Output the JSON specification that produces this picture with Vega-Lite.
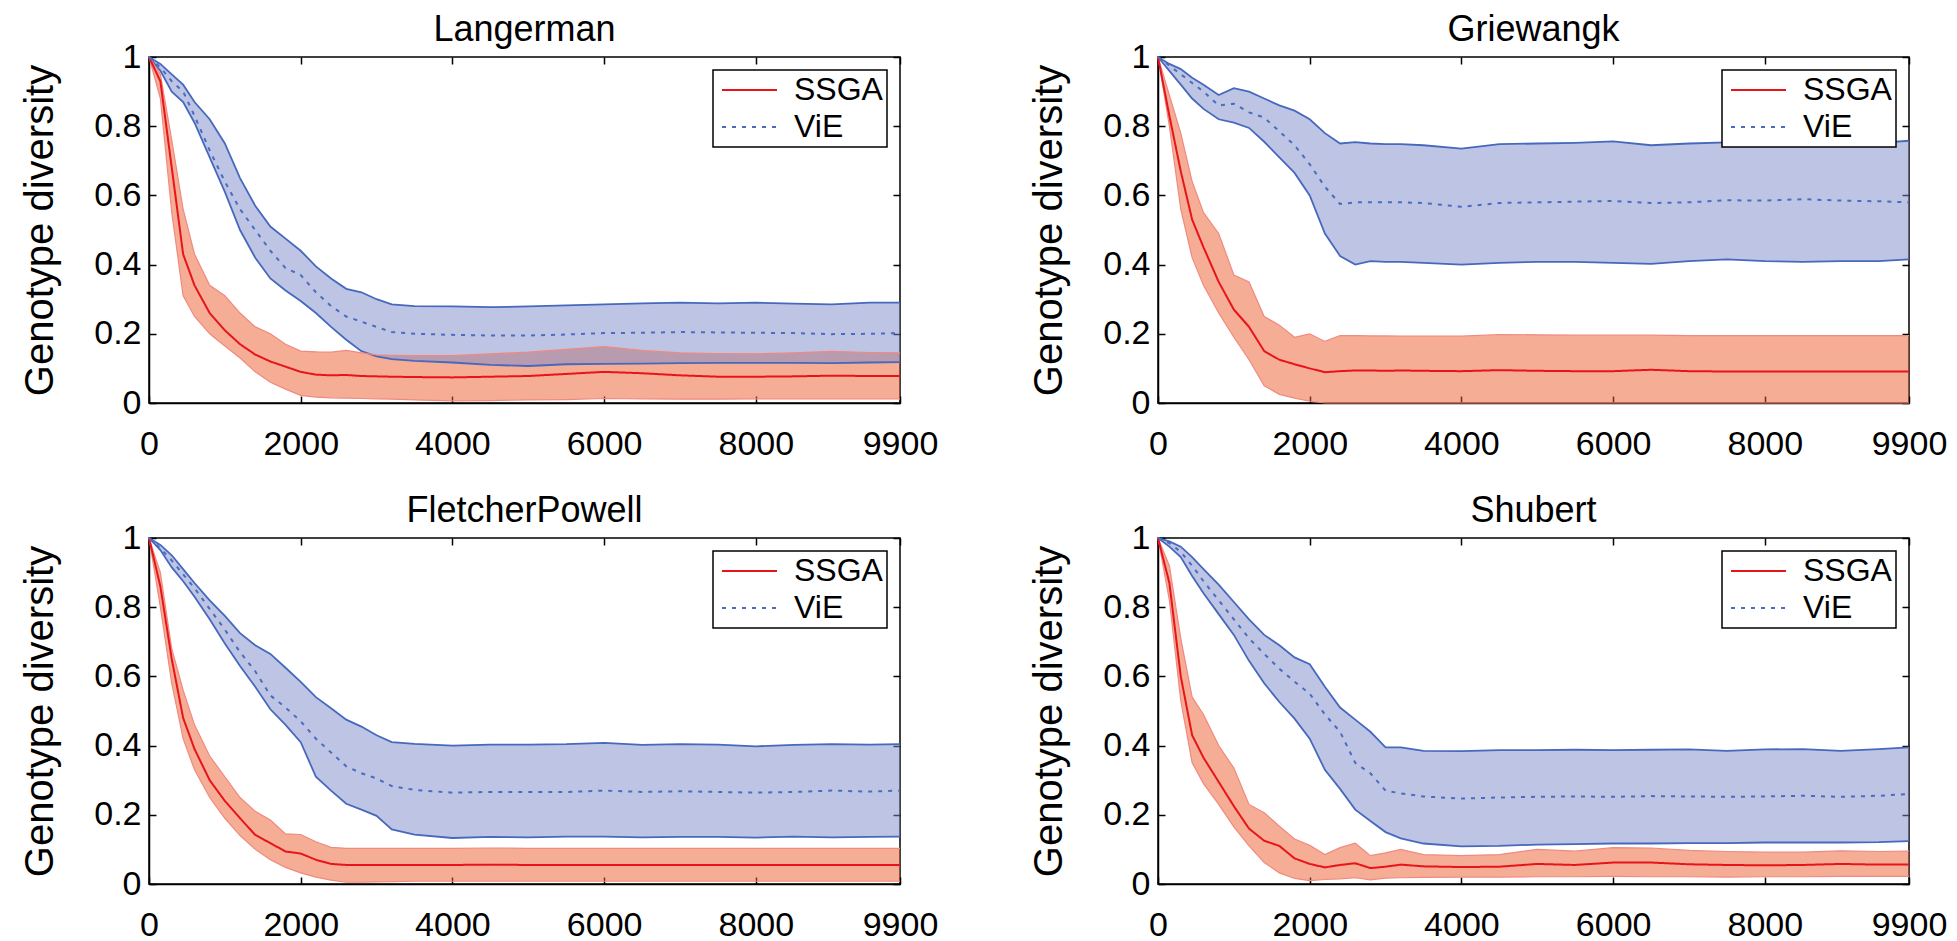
{
"$schema":"https://vega.github.io/schema/vega-lite/v6.json",
"padding":{"left":19,"top":11,"right":5,"bottom":0},
"background":"white",
"datasets":{"d":[
{"f":"Langerman","s":"SSGA","x":0,"m":1,"lo":1,"hi":1},
{"f":"Langerman","s":"SSGA","x":150,"m":0.93,"lo":0.88,"hi":0.95},
{"f":"Langerman","s":"SSGA","x":300,"m":0.68,"lo":0.55,"hi":0.76},
{"f":"Langerman","s":"SSGA","x":450,"m":0.43,"lo":0.31,"hi":0.56},
{"f":"Langerman","s":"SSGA","x":600,"m":0.34,"lo":0.25,"hi":0.43},
{"f":"Langerman","s":"SSGA","x":800,"m":0.26,"lo":0.2,"hi":0.34},
{"f":"Langerman","s":"SSGA","x":1000,"m":0.21,"lo":0.165,"hi":0.31},
{"f":"Langerman","s":"SSGA","x":1200,"m":0.17,"lo":0.13,"hi":0.26},
{"f":"Langerman","s":"SSGA","x":1400,"m":0.14,"lo":0.09,"hi":0.22},
{"f":"Langerman","s":"SSGA","x":1600,"m":0.12,"lo":0.06,"hi":0.2},
{"f":"Langerman","s":"SSGA","x":1800,"m":0.105,"lo":0.04,"hi":0.17},
{"f":"Langerman","s":"SSGA","x":2000,"m":0.09,"lo":0.022,"hi":0.15},
{"f":"Langerman","s":"SSGA","x":2200,"m":0.082,"lo":0.017,"hi":0.148},
{"f":"Langerman","s":"SSGA","x":2400,"m":0.08,"lo":0.015,"hi":0.147},
{"f":"Langerman","s":"SSGA","x":2600,"m":0.081,"lo":0.014,"hi":0.152},
{"f":"Langerman","s":"SSGA","x":2800,"m":0.078,"lo":0.013,"hi":0.145},
{"f":"Langerman","s":"SSGA","x":3000,"m":0.077,"lo":0.012,"hi":0.139},
{"f":"Langerman","s":"SSGA","x":3200,"m":0.076,"lo":0.011,"hi":0.138},
{"f":"Langerman","s":"SSGA","x":3500,"m":0.075,"lo":0.009,"hi":0.137},
{"f":"Langerman","s":"SSGA","x":4000,"m":0.074,"lo":0.006,"hi":0.137},
{"f":"Langerman","s":"SSGA","x":4500,"m":0.076,"lo":0.007,"hi":0.142},
{"f":"Langerman","s":"SSGA","x":5000,"m":0.078,"lo":0.009,"hi":0.147},
{"f":"Langerman","s":"SSGA","x":5500,"m":0.084,"lo":0.01,"hi":0.155},
{"f":"Langerman","s":"SSGA","x":6000,"m":0.09,"lo":0.013,"hi":0.163},
{"f":"Langerman","s":"SSGA","x":6500,"m":0.086,"lo":0.012,"hi":0.152},
{"f":"Langerman","s":"SSGA","x":7000,"m":0.08,"lo":0.011,"hi":0.145},
{"f":"Langerman","s":"SSGA","x":7500,"m":0.076,"lo":0.011,"hi":0.143},
{"f":"Langerman","s":"SSGA","x":8000,"m":0.076,"lo":0.012,"hi":0.142},
{"f":"Langerman","s":"SSGA","x":8500,"m":0.077,"lo":0.012,"hi":0.145},
{"f":"Langerman","s":"SSGA","x":9000,"m":0.079,"lo":0.012,"hi":0.149},
{"f":"Langerman","s":"SSGA","x":9500,"m":0.078,"lo":0.012,"hi":0.146},
{"f":"Langerman","s":"SSGA","x":9900,"m":0.078,"lo":0.012,"hi":0.145},
{"f":"Langerman","s":"ViE","x":0,"m":1,"lo":1,"hi":1},
{"f":"Langerman","s":"ViE","x":150,"m":0.97,"lo":0.96,"hi":0.98},
{"f":"Langerman","s":"ViE","x":300,"m":0.93,"lo":0.9,"hi":0.95},
{"f":"Langerman","s":"ViE","x":450,"m":0.9,"lo":0.87,"hi":0.92},
{"f":"Langerman","s":"ViE","x":600,"m":0.83,"lo":0.81,"hi":0.87},
{"f":"Langerman","s":"ViE","x":800,"m":0.73,"lo":0.71,"hi":0.82},
{"f":"Langerman","s":"ViE","x":1000,"m":0.64,"lo":0.61,"hi":0.75},
{"f":"Langerman","s":"ViE","x":1200,"m":0.56,"lo":0.5,"hi":0.65},
{"f":"Langerman","s":"ViE","x":1400,"m":0.5,"lo":0.42,"hi":0.57},
{"f":"Langerman","s":"ViE","x":1600,"m":0.44,"lo":0.36,"hi":0.51},
{"f":"Langerman","s":"ViE","x":1800,"m":0.39,"lo":0.325,"hi":0.475},
{"f":"Langerman","s":"ViE","x":2000,"m":0.37,"lo":0.295,"hi":0.44},
{"f":"Langerman","s":"ViE","x":2200,"m":0.32,"lo":0.26,"hi":0.395},
{"f":"Langerman","s":"ViE","x":2400,"m":0.28,"lo":0.22,"hi":0.36},
{"f":"Langerman","s":"ViE","x":2600,"m":0.25,"lo":0.183,"hi":0.33},
{"f":"Langerman","s":"ViE","x":2800,"m":0.235,"lo":0.15,"hi":0.32},
{"f":"Langerman","s":"ViE","x":3000,"m":0.22,"lo":0.135,"hi":0.3},
{"f":"Langerman","s":"ViE","x":3200,"m":0.205,"lo":0.127,"hi":0.285},
{"f":"Langerman","s":"ViE","x":3500,"m":0.2,"lo":0.122,"hi":0.28},
{"f":"Langerman","s":"ViE","x":4000,"m":0.197,"lo":0.117,"hi":0.279},
{"f":"Langerman","s":"ViE","x":4500,"m":0.195,"lo":0.11,"hi":0.277},
{"f":"Langerman","s":"ViE","x":5000,"m":0.195,"lo":0.107,"hi":0.279},
{"f":"Langerman","s":"ViE","x":5500,"m":0.198,"lo":0.112,"hi":0.282},
{"f":"Langerman","s":"ViE","x":6000,"m":0.202,"lo":0.113,"hi":0.285},
{"f":"Langerman","s":"ViE","x":6500,"m":0.203,"lo":0.114,"hi":0.288},
{"f":"Langerman","s":"ViE","x":7000,"m":0.205,"lo":0.115,"hi":0.29},
{"f":"Langerman","s":"ViE","x":7500,"m":0.204,"lo":0.116,"hi":0.288},
{"f":"Langerman","s":"ViE","x":8000,"m":0.203,"lo":0.116,"hi":0.29},
{"f":"Langerman","s":"ViE","x":8500,"m":0.202,"lo":0.116,"hi":0.287},
{"f":"Langerman","s":"ViE","x":9000,"m":0.199,"lo":0.115,"hi":0.285},
{"f":"Langerman","s":"ViE","x":9500,"m":0.2,"lo":0.117,"hi":0.29},
{"f":"Langerman","s":"ViE","x":9900,"m":0.202,"lo":0.118,"hi":0.29},
{"f":"Griewangk","s":"SSGA","x":0,"m":1,"lo":1,"hi":1},
{"f":"Griewangk","s":"SSGA","x":150,"m":0.83,"lo":0.8,"hi":0.89},
{"f":"Griewangk","s":"SSGA","x":300,"m":0.67,"lo":0.56,"hi":0.78},
{"f":"Griewangk","s":"SSGA","x":450,"m":0.53,"lo":0.42,"hi":0.64},
{"f":"Griewangk","s":"SSGA","x":600,"m":0.45,"lo":0.34,"hi":0.55},
{"f":"Griewangk","s":"SSGA","x":800,"m":0.35,"lo":0.26,"hi":0.49},
{"f":"Griewangk","s":"SSGA","x":1000,"m":0.27,"lo":0.19,"hi":0.37},
{"f":"Griewangk","s":"SSGA","x":1200,"m":0.22,"lo":0.125,"hi":0.35},
{"f":"Griewangk","s":"SSGA","x":1400,"m":0.15,"lo":0.05,"hi":0.25},
{"f":"Griewangk","s":"SSGA","x":1600,"m":0.125,"lo":0.025,"hi":0.225},
{"f":"Griewangk","s":"SSGA","x":1800,"m":0.112,"lo":0.014,"hi":0.19},
{"f":"Griewangk","s":"SSGA","x":2000,"m":0.1,"lo":0.005,"hi":0.2},
{"f":"Griewangk","s":"SSGA","x":2200,"m":0.089,"lo":0,"hi":0.178},
{"f":"Griewangk","s":"SSGA","x":2400,"m":0.092,"lo":0,"hi":0.195},
{"f":"Griewangk","s":"SSGA","x":2600,"m":0.094,"lo":0,"hi":0.195},
{"f":"Griewangk","s":"SSGA","x":2800,"m":0.094,"lo":0,"hi":0.194},
{"f":"Griewangk","s":"SSGA","x":3000,"m":0.093,"lo":0,"hi":0.194},
{"f":"Griewangk","s":"SSGA","x":3200,"m":0.094,"lo":0,"hi":0.193},
{"f":"Griewangk","s":"SSGA","x":3500,"m":0.093,"lo":0,"hi":0.193},
{"f":"Griewangk","s":"SSGA","x":4000,"m":0.092,"lo":0,"hi":0.193},
{"f":"Griewangk","s":"SSGA","x":4500,"m":0.095,"lo":0,"hi":0.198},
{"f":"Griewangk","s":"SSGA","x":5000,"m":0.093,"lo":0,"hi":0.197},
{"f":"Griewangk","s":"SSGA","x":5500,"m":0.092,"lo":0,"hi":0.196},
{"f":"Griewangk","s":"SSGA","x":6000,"m":0.092,"lo":0,"hi":0.196},
{"f":"Griewangk","s":"SSGA","x":6500,"m":0.096,"lo":0,"hi":0.196},
{"f":"Griewangk","s":"SSGA","x":7000,"m":0.092,"lo":0,"hi":0.195},
{"f":"Griewangk","s":"SSGA","x":7500,"m":0.091,"lo":0,"hi":0.195},
{"f":"Griewangk","s":"SSGA","x":8000,"m":0.091,"lo":0,"hi":0.195},
{"f":"Griewangk","s":"SSGA","x":8500,"m":0.091,"lo":0,"hi":0.195},
{"f":"Griewangk","s":"SSGA","x":9000,"m":0.091,"lo":0,"hi":0.195},
{"f":"Griewangk","s":"SSGA","x":9500,"m":0.091,"lo":0,"hi":0.195},
{"f":"Griewangk","s":"SSGA","x":9900,"m":0.091,"lo":0,"hi":0.195},
{"f":"Griewangk","s":"ViE","x":0,"m":1,"lo":1,"hi":1},
{"f":"Griewangk","s":"ViE","x":150,"m":0.975,"lo":0.96,"hi":0.98},
{"f":"Griewangk","s":"ViE","x":300,"m":0.95,"lo":0.92,"hi":0.965},
{"f":"Griewangk","s":"ViE","x":450,"m":0.925,"lo":0.88,"hi":0.94},
{"f":"Griewangk","s":"ViE","x":600,"m":0.9,"lo":0.85,"hi":0.92},
{"f":"Griewangk","s":"ViE","x":800,"m":0.86,"lo":0.82,"hi":0.89},
{"f":"Griewangk","s":"ViE","x":1000,"m":0.865,"lo":0.81,"hi":0.91},
{"f":"Griewangk","s":"ViE","x":1200,"m":0.84,"lo":0.795,"hi":0.9},
{"f":"Griewangk","s":"ViE","x":1400,"m":0.825,"lo":0.755,"hi":0.88},
{"f":"Griewangk","s":"ViE","x":1600,"m":0.785,"lo":0.71,"hi":0.86},
{"f":"Griewangk","s":"ViE","x":1800,"m":0.745,"lo":0.665,"hi":0.845},
{"f":"Griewangk","s":"ViE","x":2000,"m":0.69,"lo":0.6,"hi":0.82},
{"f":"Griewangk","s":"ViE","x":2200,"m":0.625,"lo":0.49,"hi":0.78},
{"f":"Griewangk","s":"ViE","x":2400,"m":0.575,"lo":0.425,"hi":0.75},
{"f":"Griewangk","s":"ViE","x":2600,"m":0.58,"lo":0.4,"hi":0.754},
{"f":"Griewangk","s":"ViE","x":2800,"m":0.58,"lo":0.41,"hi":0.75},
{"f":"Griewangk","s":"ViE","x":3000,"m":0.58,"lo":0.408,"hi":0.748},
{"f":"Griewangk","s":"ViE","x":3200,"m":0.58,"lo":0.408,"hi":0.748},
{"f":"Griewangk","s":"ViE","x":3500,"m":0.578,"lo":0.405,"hi":0.745},
{"f":"Griewangk","s":"ViE","x":4000,"m":0.567,"lo":0.4,"hi":0.735},
{"f":"Griewangk","s":"ViE","x":4500,"m":0.578,"lo":0.405,"hi":0.748},
{"f":"Griewangk","s":"ViE","x":5000,"m":0.58,"lo":0.408,"hi":0.75},
{"f":"Griewangk","s":"ViE","x":5500,"m":0.582,"lo":0.408,"hi":0.752},
{"f":"Griewangk","s":"ViE","x":6000,"m":0.584,"lo":0.405,"hi":0.756},
{"f":"Griewangk","s":"ViE","x":6500,"m":0.578,"lo":0.402,"hi":0.745},
{"f":"Griewangk","s":"ViE","x":7000,"m":0.58,"lo":0.41,"hi":0.75},
{"f":"Griewangk","s":"ViE","x":7500,"m":0.586,"lo":0.415,"hi":0.753},
{"f":"Griewangk","s":"ViE","x":8000,"m":0.585,"lo":0.41,"hi":0.756},
{"f":"Griewangk","s":"ViE","x":8500,"m":0.589,"lo":0.408,"hi":0.755},
{"f":"Griewangk","s":"ViE","x":9000,"m":0.585,"lo":0.41,"hi":0.757},
{"f":"Griewangk","s":"ViE","x":9500,"m":0.583,"lo":0.41,"hi":0.752},
{"f":"Griewangk","s":"ViE","x":9900,"m":0.58,"lo":0.415,"hi":0.758},
{"f":"FletcherPowell","s":"SSGA","x":0,"m":1,"lo":1,"hi":1},
{"f":"FletcherPowell","s":"SSGA","x":150,"m":0.86,"lo":0.8,"hi":0.9},
{"f":"FletcherPowell","s":"SSGA","x":300,"m":0.65,"lo":0.58,"hi":0.68},
{"f":"FletcherPowell","s":"SSGA","x":450,"m":0.48,"lo":0.42,"hi":0.56},
{"f":"FletcherPowell","s":"SSGA","x":600,"m":0.39,"lo":0.33,"hi":0.46},
{"f":"FletcherPowell","s":"SSGA","x":800,"m":0.3,"lo":0.25,"hi":0.37},
{"f":"FletcherPowell","s":"SSGA","x":1000,"m":0.24,"lo":0.19,"hi":0.31},
{"f":"FletcherPowell","s":"SSGA","x":1200,"m":0.19,"lo":0.14,"hi":0.25},
{"f":"FletcherPowell","s":"SSGA","x":1400,"m":0.142,"lo":0.1,"hi":0.21},
{"f":"FletcherPowell","s":"SSGA","x":1600,"m":0.118,"lo":0.07,"hi":0.185},
{"f":"FletcherPowell","s":"SSGA","x":1800,"m":0.094,"lo":0.048,"hi":0.145},
{"f":"FletcherPowell","s":"SSGA","x":2000,"m":0.088,"lo":0.032,"hi":0.143},
{"f":"FletcherPowell","s":"SSGA","x":2200,"m":0.07,"lo":0.02,"hi":0.122},
{"f":"FletcherPowell","s":"SSGA","x":2400,"m":0.058,"lo":0.011,"hi":0.106},
{"f":"FletcherPowell","s":"SSGA","x":2600,"m":0.055,"lo":0.005,"hi":0.103},
{"f":"FletcherPowell","s":"SSGA","x":2800,"m":0.055,"lo":0.005,"hi":0.103},
{"f":"FletcherPowell","s":"SSGA","x":3000,"m":0.055,"lo":0.006,"hi":0.103},
{"f":"FletcherPowell","s":"SSGA","x":3200,"m":0.055,"lo":0.007,"hi":0.103},
{"f":"FletcherPowell","s":"SSGA","x":3500,"m":0.055,"lo":0.008,"hi":0.103},
{"f":"FletcherPowell","s":"SSGA","x":4000,"m":0.055,"lo":0.008,"hi":0.103},
{"f":"FletcherPowell","s":"SSGA","x":4500,"m":0.056,"lo":0.008,"hi":0.104},
{"f":"FletcherPowell","s":"SSGA","x":5000,"m":0.055,"lo":0.008,"hi":0.103},
{"f":"FletcherPowell","s":"SSGA","x":5500,"m":0.055,"lo":0.008,"hi":0.103},
{"f":"FletcherPowell","s":"SSGA","x":6000,"m":0.055,"lo":0.008,"hi":0.103},
{"f":"FletcherPowell","s":"SSGA","x":6500,"m":0.055,"lo":0.008,"hi":0.103},
{"f":"FletcherPowell","s":"SSGA","x":7000,"m":0.055,"lo":0.008,"hi":0.103},
{"f":"FletcherPowell","s":"SSGA","x":7500,"m":0.055,"lo":0.008,"hi":0.103},
{"f":"FletcherPowell","s":"SSGA","x":8000,"m":0.055,"lo":0.008,"hi":0.103},
{"f":"FletcherPowell","s":"SSGA","x":8500,"m":0.055,"lo":0.008,"hi":0.103},
{"f":"FletcherPowell","s":"SSGA","x":9000,"m":0.055,"lo":0.008,"hi":0.103},
{"f":"FletcherPowell","s":"SSGA","x":9500,"m":0.055,"lo":0.008,"hi":0.103},
{"f":"FletcherPowell","s":"SSGA","x":9900,"m":0.055,"lo":0.008,"hi":0.103},
{"f":"FletcherPowell","s":"ViE","x":0,"m":1,"lo":1,"hi":1},
{"f":"FletcherPowell","s":"ViE","x":150,"m":0.97,"lo":0.965,"hi":0.98},
{"f":"FletcherPowell","s":"ViE","x":300,"m":0.935,"lo":0.915,"hi":0.95},
{"f":"FletcherPowell","s":"ViE","x":450,"m":0.895,"lo":0.875,"hi":0.91},
{"f":"FletcherPowell","s":"ViE","x":600,"m":0.855,"lo":0.83,"hi":0.87},
{"f":"FletcherPowell","s":"ViE","x":800,"m":0.795,"lo":0.765,"hi":0.82},
{"f":"FletcherPowell","s":"ViE","x":1000,"m":0.735,"lo":0.695,"hi":0.775},
{"f":"FletcherPowell","s":"ViE","x":1200,"m":0.67,"lo":0.63,"hi":0.725},
{"f":"FletcherPowell","s":"ViE","x":1400,"m":0.615,"lo":0.57,"hi":0.69},
{"f":"FletcherPowell","s":"ViE","x":1600,"m":0.545,"lo":0.505,"hi":0.665},
{"f":"FletcherPowell","s":"ViE","x":1800,"m":0.51,"lo":0.46,"hi":0.625},
{"f":"FletcherPowell","s":"ViE","x":2000,"m":0.47,"lo":0.41,"hi":0.584},
{"f":"FletcherPowell","s":"ViE","x":2200,"m":0.42,"lo":0.31,"hi":0.54},
{"f":"FletcherPowell","s":"ViE","x":2400,"m":0.38,"lo":0.27,"hi":0.508},
{"f":"FletcherPowell","s":"ViE","x":2600,"m":0.34,"lo":0.232,"hi":0.475},
{"f":"FletcherPowell","s":"ViE","x":2800,"m":0.32,"lo":0.215,"hi":0.455},
{"f":"FletcherPowell","s":"ViE","x":3000,"m":0.305,"lo":0.197,"hi":0.43},
{"f":"FletcherPowell","s":"ViE","x":3200,"m":0.283,"lo":0.158,"hi":0.41},
{"f":"FletcherPowell","s":"ViE","x":3500,"m":0.272,"lo":0.143,"hi":0.405},
{"f":"FletcherPowell","s":"ViE","x":4000,"m":0.264,"lo":0.133,"hi":0.4},
{"f":"FletcherPowell","s":"ViE","x":4500,"m":0.266,"lo":0.136,"hi":0.403},
{"f":"FletcherPowell","s":"ViE","x":5000,"m":0.266,"lo":0.135,"hi":0.403},
{"f":"FletcherPowell","s":"ViE","x":5500,"m":0.266,"lo":0.137,"hi":0.404},
{"f":"FletcherPowell","s":"ViE","x":6000,"m":0.27,"lo":0.137,"hi":0.408},
{"f":"FletcherPowell","s":"ViE","x":6500,"m":0.266,"lo":0.135,"hi":0.402},
{"f":"FletcherPowell","s":"ViE","x":7000,"m":0.268,"lo":0.136,"hi":0.404},
{"f":"FletcherPowell","s":"ViE","x":7500,"m":0.266,"lo":0.136,"hi":0.403},
{"f":"FletcherPowell","s":"ViE","x":8000,"m":0.264,"lo":0.134,"hi":0.398},
{"f":"FletcherPowell","s":"ViE","x":8500,"m":0.266,"lo":0.137,"hi":0.402},
{"f":"FletcherPowell","s":"ViE","x":9000,"m":0.27,"lo":0.135,"hi":0.404},
{"f":"FletcherPowell","s":"ViE","x":9500,"m":0.267,"lo":0.136,"hi":0.403},
{"f":"FletcherPowell","s":"ViE","x":9900,"m":0.27,"lo":0.137,"hi":0.404},
{"f":"Shubert","s":"SSGA","x":0,"m":1,"lo":1,"hi":1},
{"f":"Shubert","s":"SSGA","x":150,"m":0.87,"lo":0.82,"hi":0.92},
{"f":"Shubert","s":"SSGA","x":300,"m":0.6,"lo":0.53,"hi":0.71},
{"f":"Shubert","s":"SSGA","x":450,"m":0.43,"lo":0.35,"hi":0.54},
{"f":"Shubert","s":"SSGA","x":600,"m":0.365,"lo":0.29,"hi":0.49},
{"f":"Shubert","s":"SSGA","x":800,"m":0.295,"lo":0.23,"hi":0.4},
{"f":"Shubert","s":"SSGA","x":1000,"m":0.225,"lo":0.165,"hi":0.335},
{"f":"Shubert","s":"SSGA","x":1200,"m":0.16,"lo":0.11,"hi":0.23},
{"f":"Shubert","s":"SSGA","x":1400,"m":0.125,"lo":0.062,"hi":0.206},
{"f":"Shubert","s":"SSGA","x":1600,"m":0.11,"lo":0.032,"hi":0.167},
{"f":"Shubert","s":"SSGA","x":1800,"m":0.074,"lo":0.016,"hi":0.13},
{"f":"Shubert","s":"SSGA","x":2000,"m":0.058,"lo":0.01,"hi":0.112},
{"f":"Shubert","s":"SSGA","x":2200,"m":0.048,"lo":0.013,"hi":0.085},
{"f":"Shubert","s":"SSGA","x":2400,"m":0.055,"lo":0.015,"hi":0.105},
{"f":"Shubert","s":"SSGA","x":2600,"m":0.06,"lo":0.018,"hi":0.118},
{"f":"Shubert","s":"SSGA","x":2800,"m":0.046,"lo":0.012,"hi":0.082},
{"f":"Shubert","s":"SSGA","x":3000,"m":0.05,"lo":0.017,"hi":0.09},
{"f":"Shubert","s":"SSGA","x":3200,"m":0.056,"lo":0.018,"hi":0.1},
{"f":"Shubert","s":"SSGA","x":3500,"m":0.051,"lo":0.019,"hi":0.085},
{"f":"Shubert","s":"SSGA","x":4000,"m":0.049,"lo":0.02,"hi":0.082},
{"f":"Shubert","s":"SSGA","x":4500,"m":0.05,"lo":0.02,"hi":0.085},
{"f":"Shubert","s":"SSGA","x":5000,"m":0.058,"lo":0.021,"hi":0.1},
{"f":"Shubert","s":"SSGA","x":5500,"m":0.055,"lo":0.021,"hi":0.095},
{"f":"Shubert","s":"SSGA","x":6000,"m":0.062,"lo":0.022,"hi":0.105},
{"f":"Shubert","s":"SSGA","x":6500,"m":0.062,"lo":0.021,"hi":0.104},
{"f":"Shubert","s":"SSGA","x":7000,"m":0.057,"lo":0.021,"hi":0.097},
{"f":"Shubert","s":"SSGA","x":7500,"m":0.055,"lo":0.02,"hi":0.094},
{"f":"Shubert","s":"SSGA","x":8000,"m":0.054,"lo":0.021,"hi":0.092},
{"f":"Shubert","s":"SSGA","x":8500,"m":0.055,"lo":0.021,"hi":0.092},
{"f":"Shubert","s":"SSGA","x":9000,"m":0.058,"lo":0.022,"hi":0.096},
{"f":"Shubert","s":"SSGA","x":9500,"m":0.056,"lo":0.022,"hi":0.094},
{"f":"Shubert","s":"SSGA","x":9900,"m":0.056,"lo":0.022,"hi":0.095},
{"f":"Shubert","s":"ViE","x":0,"m":1,"lo":1,"hi":1},
{"f":"Shubert","s":"ViE","x":150,"m":0.985,"lo":0.975,"hi":0.99},
{"f":"Shubert","s":"ViE","x":300,"m":0.96,"lo":0.945,"hi":0.975},
{"f":"Shubert","s":"ViE","x":450,"m":0.92,"lo":0.89,"hi":0.945},
{"f":"Shubert","s":"ViE","x":600,"m":0.875,"lo":0.84,"hi":0.91},
{"f":"Shubert","s":"ViE","x":800,"m":0.82,"lo":0.78,"hi":0.865},
{"f":"Shubert","s":"ViE","x":1000,"m":0.765,"lo":0.72,"hi":0.815},
{"f":"Shubert","s":"ViE","x":1200,"m":0.71,"lo":0.645,"hi":0.765},
{"f":"Shubert","s":"ViE","x":1400,"m":0.665,"lo":0.58,"hi":0.72},
{"f":"Shubert","s":"ViE","x":1600,"m":0.622,"lo":0.526,"hi":0.69},
{"f":"Shubert","s":"ViE","x":1800,"m":0.585,"lo":0.478,"hi":0.655},
{"f":"Shubert","s":"ViE","x":2000,"m":0.55,"lo":0.42,"hi":0.635},
{"f":"Shubert","s":"ViE","x":2200,"m":0.49,"lo":0.33,"hi":0.57},
{"f":"Shubert","s":"ViE","x":2400,"m":0.44,"lo":0.275,"hi":0.51},
{"f":"Shubert","s":"ViE","x":2600,"m":0.35,"lo":0.215,"hi":0.475},
{"f":"Shubert","s":"ViE","x":2800,"m":0.32,"lo":0.182,"hi":0.44},
{"f":"Shubert","s":"ViE","x":3000,"m":0.27,"lo":0.15,"hi":0.395},
{"f":"Shubert","s":"ViE","x":3200,"m":0.262,"lo":0.132,"hi":0.395},
{"f":"Shubert","s":"ViE","x":3500,"m":0.253,"lo":0.117,"hi":0.385},
{"f":"Shubert","s":"ViE","x":4000,"m":0.247,"lo":0.109,"hi":0.384},
{"f":"Shubert","s":"ViE","x":4500,"m":0.25,"lo":0.11,"hi":0.387},
{"f":"Shubert","s":"ViE","x":5000,"m":0.252,"lo":0.114,"hi":0.387},
{"f":"Shubert","s":"ViE","x":5500,"m":0.253,"lo":0.115,"hi":0.388},
{"f":"Shubert","s":"ViE","x":6000,"m":0.252,"lo":0.117,"hi":0.387},
{"f":"Shubert","s":"ViE","x":6500,"m":0.254,"lo":0.117,"hi":0.388},
{"f":"Shubert","s":"ViE","x":7000,"m":0.253,"lo":0.118,"hi":0.389},
{"f":"Shubert","s":"ViE","x":7500,"m":0.252,"lo":0.118,"hi":0.385},
{"f":"Shubert","s":"ViE","x":8000,"m":0.253,"lo":0.12,"hi":0.389},
{"f":"Shubert","s":"ViE","x":8500,"m":0.255,"lo":0.12,"hi":0.39},
{"f":"Shubert","s":"ViE","x":9000,"m":0.252,"lo":0.12,"hi":0.385},
{"f":"Shubert","s":"ViE","x":9500,"m":0.255,"lo":0.121,"hi":0.39},
{"f":"Shubert","s":"ViE","x":9900,"m":0.26,"lo":0.124,"hi":0.395}
]},
"data":{"name":"d"},
"columns":2,
"spacing":{"row":135,"column":258},
"bounds":"flush",
"concat":[
{"title":"Langerman","width":751,"height":346,
"transform":[{"filter":"datum.f === 'Langerman'"}],
"layer":[
{"encoding":{"x":{"field":"x","type":"quantitative","title":null,"scale":{"domain":[0,9900],"nice":false},"axis":{"values":[0,2000,4000,6000,8000,9900],"format":"d"}}},
"layer":[
{"transform":[{"filter":"datum.s === 'SSGA'"}],"mark":{"type":"area","color":"#eb5b2b","opacity":0.5},"encoding":{"y":{"field":"lo","type":"quantitative","title":"Genotype diversity","scale":{"domain":[0,1],"nice":false},"axis":{"values":[0,0.2,0.4,0.6,0.8,1],"format":"~g"}},"y2":{"field":"hi"}}},
{"transform":[{"filter":"datum.s === 'ViE'"}],"mark":{"type":"area","color":"#7d89c9","opacity":0.5},"encoding":{"y":{"field":"lo","type":"quantitative","title":"Genotype diversity"},"y2":{"field":"hi"}}},
{"transform":[{"filter":"datum.s === 'ViE'"}],"mark":{"type":"line","color":"#4668bd","strokeWidth":1.8},"encoding":{"y":{"field":"lo","type":"quantitative","title":"Genotype diversity"}}},
{"transform":[{"filter":"datum.s === 'ViE'"}],"mark":{"type":"line","color":"#4668bd","strokeWidth":1.8},"encoding":{"y":{"field":"hi","type":"quantitative","title":"Genotype diversity"}}},
{"transform":[{"filter":"datum.s === 'SSGA'"}],"mark":{"type":"line","color":"#f08a80","strokeWidth":1.2},"encoding":{"y":{"field":"lo","type":"quantitative","title":"Genotype diversity"}}},
{"transform":[{"filter":"datum.s === 'SSGA'"}],"mark":{"type":"line","color":"#f08a80","strokeWidth":1.2},"encoding":{"y":{"field":"hi","type":"quantitative","title":"Genotype diversity"}}},
{"mark":{"type":"line","strokeWidth":2},"encoding":{"y":{"field":"m","type":"quantitative","title":"Genotype diversity"},"color":{"field":"s","type":"nominal","title":null,"scale":{"domain":["SSGA","ViE"],"range":["#e8141c","#4a6cc0"]}},"strokeDash":{"field":"s","type":"nominal","title":null,"scale":{"domain":["SSGA","ViE"],"range":[[1,0],[4,6]]}}}}
]},
{"mark":{"type":"line","opacity":0},"encoding":{"x":{"field":"x","type":"quantitative","title":null,"axis":{"orient":"top","labels":false,"domain":false,"values":[0,2000,4000,6000,8000,9900]}},"y":{"field":"m","type":"quantitative","title":null,"axis":{"orient":"right","labels":false,"domain":false,"values":[0,0.2,0.4,0.6,0.8,1]}}}}
],
"resolve":{"axis":{"x":"independent","y":"independent"}}},
{"title":"Griewangk","width":751,"height":346,
"transform":[{"filter":"datum.f === 'Griewangk'"}],
"layer":[
{"encoding":{"x":{"field":"x","type":"quantitative","title":null,"scale":{"domain":[0,9900],"nice":false},"axis":{"values":[0,2000,4000,6000,8000,9900],"format":"d"}}},
"layer":[
{"transform":[{"filter":"datum.s === 'SSGA'"}],"mark":{"type":"area","color":"#eb5b2b","opacity":0.5},"encoding":{"y":{"field":"lo","type":"quantitative","title":"Genotype diversity","scale":{"domain":[0,1],"nice":false},"axis":{"values":[0,0.2,0.4,0.6,0.8,1],"format":"~g"}},"y2":{"field":"hi"}}},
{"transform":[{"filter":"datum.s === 'ViE'"}],"mark":{"type":"area","color":"#7d89c9","opacity":0.5},"encoding":{"y":{"field":"lo","type":"quantitative","title":"Genotype diversity"},"y2":{"field":"hi"}}},
{"transform":[{"filter":"datum.s === 'ViE'"}],"mark":{"type":"line","color":"#4668bd","strokeWidth":1.8},"encoding":{"y":{"field":"lo","type":"quantitative","title":"Genotype diversity"}}},
{"transform":[{"filter":"datum.s === 'ViE'"}],"mark":{"type":"line","color":"#4668bd","strokeWidth":1.8},"encoding":{"y":{"field":"hi","type":"quantitative","title":"Genotype diversity"}}},
{"transform":[{"filter":"datum.s === 'SSGA'"}],"mark":{"type":"line","color":"#f08a80","strokeWidth":1.2},"encoding":{"y":{"field":"lo","type":"quantitative","title":"Genotype diversity"}}},
{"transform":[{"filter":"datum.s === 'SSGA'"}],"mark":{"type":"line","color":"#f08a80","strokeWidth":1.2},"encoding":{"y":{"field":"hi","type":"quantitative","title":"Genotype diversity"}}},
{"mark":{"type":"line","strokeWidth":2},"encoding":{"y":{"field":"m","type":"quantitative","title":"Genotype diversity"},"color":{"field":"s","type":"nominal","title":null,"scale":{"domain":["SSGA","ViE"],"range":["#e8141c","#4a6cc0"]}},"strokeDash":{"field":"s","type":"nominal","title":null,"scale":{"domain":["SSGA","ViE"],"range":[[1,0],[4,6]]}}}}
]},
{"mark":{"type":"line","opacity":0},"encoding":{"x":{"field":"x","type":"quantitative","title":null,"axis":{"orient":"top","labels":false,"domain":false,"values":[0,2000,4000,6000,8000,9900]}},"y":{"field":"m","type":"quantitative","title":null,"axis":{"orient":"right","labels":false,"domain":false,"values":[0,0.2,0.4,0.6,0.8,1]}}}}
],
"resolve":{"axis":{"x":"independent","y":"independent"}}},
{"title":"FletcherPowell","width":751,"height":346,
"transform":[{"filter":"datum.f === 'FletcherPowell'"}],
"layer":[
{"encoding":{"x":{"field":"x","type":"quantitative","title":null,"scale":{"domain":[0,9900],"nice":false},"axis":{"values":[0,2000,4000,6000,8000,9900],"format":"d"}}},
"layer":[
{"transform":[{"filter":"datum.s === 'SSGA'"}],"mark":{"type":"area","color":"#eb5b2b","opacity":0.5},"encoding":{"y":{"field":"lo","type":"quantitative","title":"Genotype diversity","scale":{"domain":[0,1],"nice":false},"axis":{"values":[0,0.2,0.4,0.6,0.8,1],"format":"~g"}},"y2":{"field":"hi"}}},
{"transform":[{"filter":"datum.s === 'ViE'"}],"mark":{"type":"area","color":"#7d89c9","opacity":0.5},"encoding":{"y":{"field":"lo","type":"quantitative","title":"Genotype diversity"},"y2":{"field":"hi"}}},
{"transform":[{"filter":"datum.s === 'ViE'"}],"mark":{"type":"line","color":"#4668bd","strokeWidth":1.8},"encoding":{"y":{"field":"lo","type":"quantitative","title":"Genotype diversity"}}},
{"transform":[{"filter":"datum.s === 'ViE'"}],"mark":{"type":"line","color":"#4668bd","strokeWidth":1.8},"encoding":{"y":{"field":"hi","type":"quantitative","title":"Genotype diversity"}}},
{"transform":[{"filter":"datum.s === 'SSGA'"}],"mark":{"type":"line","color":"#f08a80","strokeWidth":1.2},"encoding":{"y":{"field":"lo","type":"quantitative","title":"Genotype diversity"}}},
{"transform":[{"filter":"datum.s === 'SSGA'"}],"mark":{"type":"line","color":"#f08a80","strokeWidth":1.2},"encoding":{"y":{"field":"hi","type":"quantitative","title":"Genotype diversity"}}},
{"mark":{"type":"line","strokeWidth":2},"encoding":{"y":{"field":"m","type":"quantitative","title":"Genotype diversity"},"color":{"field":"s","type":"nominal","title":null,"scale":{"domain":["SSGA","ViE"],"range":["#e8141c","#4a6cc0"]}},"strokeDash":{"field":"s","type":"nominal","title":null,"scale":{"domain":["SSGA","ViE"],"range":[[1,0],[4,6]]}}}}
]},
{"mark":{"type":"line","opacity":0},"encoding":{"x":{"field":"x","type":"quantitative","title":null,"axis":{"orient":"top","labels":false,"domain":false,"values":[0,2000,4000,6000,8000,9900]}},"y":{"field":"m","type":"quantitative","title":null,"axis":{"orient":"right","labels":false,"domain":false,"values":[0,0.2,0.4,0.6,0.8,1]}}}}
],
"resolve":{"axis":{"x":"independent","y":"independent"}}},
{"title":"Shubert","width":751,"height":346,
"transform":[{"filter":"datum.f === 'Shubert'"}],
"layer":[
{"encoding":{"x":{"field":"x","type":"quantitative","title":null,"scale":{"domain":[0,9900],"nice":false},"axis":{"values":[0,2000,4000,6000,8000,9900],"format":"d"}}},
"layer":[
{"transform":[{"filter":"datum.s === 'SSGA'"}],"mark":{"type":"area","color":"#eb5b2b","opacity":0.5},"encoding":{"y":{"field":"lo","type":"quantitative","title":"Genotype diversity","scale":{"domain":[0,1],"nice":false},"axis":{"values":[0,0.2,0.4,0.6,0.8,1],"format":"~g"}},"y2":{"field":"hi"}}},
{"transform":[{"filter":"datum.s === 'ViE'"}],"mark":{"type":"area","color":"#7d89c9","opacity":0.5},"encoding":{"y":{"field":"lo","type":"quantitative","title":"Genotype diversity"},"y2":{"field":"hi"}}},
{"transform":[{"filter":"datum.s === 'ViE'"}],"mark":{"type":"line","color":"#4668bd","strokeWidth":1.8},"encoding":{"y":{"field":"lo","type":"quantitative","title":"Genotype diversity"}}},
{"transform":[{"filter":"datum.s === 'ViE'"}],"mark":{"type":"line","color":"#4668bd","strokeWidth":1.8},"encoding":{"y":{"field":"hi","type":"quantitative","title":"Genotype diversity"}}},
{"transform":[{"filter":"datum.s === 'SSGA'"}],"mark":{"type":"line","color":"#f08a80","strokeWidth":1.2},"encoding":{"y":{"field":"lo","type":"quantitative","title":"Genotype diversity"}}},
{"transform":[{"filter":"datum.s === 'SSGA'"}],"mark":{"type":"line","color":"#f08a80","strokeWidth":1.2},"encoding":{"y":{"field":"hi","type":"quantitative","title":"Genotype diversity"}}},
{"mark":{"type":"line","strokeWidth":2},"encoding":{"y":{"field":"m","type":"quantitative","title":"Genotype diversity"},"color":{"field":"s","type":"nominal","title":null,"scale":{"domain":["SSGA","ViE"],"range":["#e8141c","#4a6cc0"]}},"strokeDash":{"field":"s","type":"nominal","title":null,"scale":{"domain":["SSGA","ViE"],"range":[[1,0],[4,6]]}}}}
]},
{"mark":{"type":"line","opacity":0},"encoding":{"x":{"field":"x","type":"quantitative","title":null,"axis":{"orient":"top","labels":false,"domain":false,"values":[0,2000,4000,6000,8000,9900]}},"y":{"field":"m","type":"quantitative","title":null,"axis":{"orient":"right","labels":false,"domain":false,"values":[0,0.2,0.4,0.6,0.8,1]}}}}
],
"resolve":{"axis":{"x":"independent","y":"independent"}}}
],
"resolve":{"scale":{"color":"independent","strokeDash":"independent"},"legend":{"color":"independent","strokeDash":"independent"}},
"config":{
"font":"Liberation Sans",
"view":{"stroke":"black","strokeWidth":1.5},
"title":{"font":"Liberation Sans","fontSize":36,"fontWeight":"normal","color":"black","offset":-9},
"axis":{"labelFont":"Liberation Sans","labelFontSize":34,"labelColor":"black","titleFont":"Liberation Sans","titleFontSize":40,"titleFontWeight":"normal","titleColor":"black","domainColor":"black","domainWidth":1.5,"tickColor":"black","tickWidth":1.5,"tickSize":-7,"grid":false,"labelFlush":false,"labelOverlap":false},
"axisX":{"labelPadding":31},
"axisY":{"labelPadding":15,"titlePadding":33},
"legend":{"orient":"top-right","offset":13,"padding":4,"strokeColor":"black","strokeWidth":1.5,"fillColor":"white","labelFont":"Liberation Sans","labelFontSize":32,"labelColor":"black","symbolType":"M-1,0H4","symbolSize":484,"symbolStrokeWidth":2,"labelOffset":45,"rowPadding":5,"cornerRadius":0}
}
}
